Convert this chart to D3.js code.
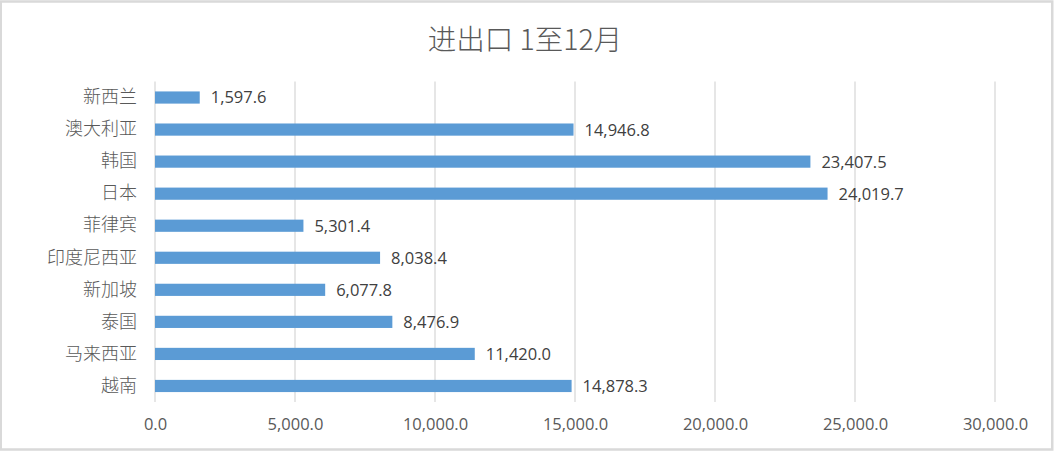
<!DOCTYPE html>
<html><head><meta charset="utf-8">
<script src="https://cdn.jsdelivr.net/npm/d3@7"></script>
<style>
html,body{margin:0;padding:0;background:#fff;}
svg{display:block;}
</style></head>
<body>
<svg id="chart" width="1054" height="452"></svg>
<script>
const title = "进出口 1至12月";
const categories = ["新西兰","澳大利亚","韩国","日本","菲律宾","印度尼西亚","新加坡","泰国","马来西亚","越南"];
const values = [1597.6,14946.8,23407.5,24019.7,5301.4,8038.4,6077.8,8476.9,11420.0,14878.3];
const xTicks = [0,5000,10000,15000,20000,25000,30000];

const W = 1054, H = 452;
const svg = d3.select("#chart");
const margin = {left:155, right:W-995, top:81.5, bottom:H-402};

svg.append("rect").attr("x",0.75).attr("y",1.5).attr("width",W-2.5).attr("height",H-4)
  .attr("fill","#fff").attr("stroke","#d9d9d9").attr("stroke-width",2.5);

const x = d3.scaleLinear().domain([0,30000]).range([margin.left, W-margin.right]);
const y = d3.scaleBand().domain(categories).range([margin.top, H-margin.bottom]).paddingInner(0.62).paddingOuter(0.31);

const fmt = d3.format(",.1f");
const cjk = "'Noto Sans CJK SC','Noto Sans',sans-serif";
const num = "'Open Sans','Noto Sans',sans-serif";

// gridlines
svg.append("g").selectAll("line").data(xTicks).join("line")
  .attr("x1",d=>x(d)).attr("x2",d=>x(d))
  .attr("y1",margin.top).attr("y2",H-margin.bottom)
  .attr("stroke","#d9d9d9").attr("stroke-width",1.3);

// x axis labels
const xAxis = d3.axisBottom(x).tickValues(xTicks).tickFormat(fmt).tickSize(0).tickPadding(16);
const gx = svg.append("g").attr("transform",`translate(0,${H-margin.bottom})`).call(xAxis);
gx.select(".domain").remove();
gx.selectAll("text").attr("fill","#595959").style("font-family",num).style("font-size","16.5px");

// y axis labels
const yAxis = d3.axisLeft(y).tickSize(0).tickPadding(18);
const gy = svg.append("g").attr("transform",`translate(${margin.left},0)`).call(yAxis);
gy.select(".domain").remove();
gy.selectAll("text").attr("fill","#595959").style("font-family",cjk).style("font-size","18px").style("font-weight","300");

// bars
svg.append("g").selectAll("rect").data(categories).join("rect")
  .attr("x",x(0)).attr("y",d=>y(d)).attr("height",y.bandwidth())
  .attr("width",(d,i)=>x(values[i])-x(0)).attr("fill","#5b9bd5");

// value labels
svg.append("g").selectAll("text").data(categories).join("text")
  .attr("x",(d,i)=>x(values[i])+11).attr("y",d=>y(d)+y.bandwidth()/2)
  .attr("dy","0.36em").attr("fill","#404040")
  .style("font-family",num).style("font-size","16.5px")
  .text((d,i)=>fmt(values[i]));

// title
svg.append("text").attr("x",525).attr("y",50).attr("text-anchor","middle")
  .attr("fill","#595959").style("font-family",cjk).style("font-size","28.5px").style("font-weight","300")
  .text(title);
</script>
</body></html>
